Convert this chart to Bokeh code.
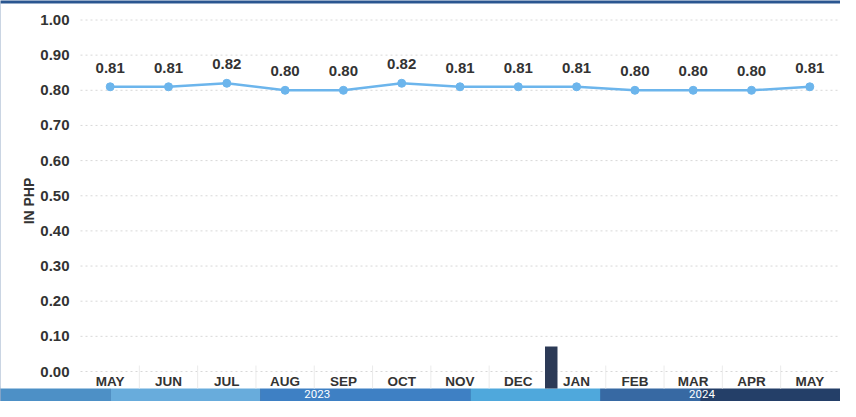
from bokeh.plotting import figure
from bokeh.models import LinearAxis, FixedTicker, NumeralTickFormatter, Range1d
from bokeh.core.properties import value
from bokeh.embed import file_html
from bokeh.resources import INLINE

# ---- data ----
months = ["MAY", "JUN", "JUL", "AUG", "SEP", "OCT", "NOV", "DEC",
          "JAN", "FEB", "MAR", "APR", "MAY"]
prices = [0.81, 0.81, 0.82, 0.80, 0.80, 0.82, 0.81, 0.81,
          0.81, 0.80, 0.80, 0.80, 0.81]
price_labels = ["%.2f" % v for v in prices]
y_ticks = [0.0, 0.1, 0.2, 0.3, 0.4, 0.5, 0.6, 0.7, 0.8, 0.9, 1.0]
years = ["2023", "2024"]
y_label = "IN PHP"

W, H = 840, 401
# pixel geometry of the reference (canvas coordinates)
X0_PX, DX_PX = 109.7, 58.3      # x px of first category, px per category
Y0_PX, DY_PX = 371.0, 351.5     # y px of value 0, px per unit

def xv(px):
    return (px - X0_PX) / DX_PX

def yv(py):
    return (Y0_PX - py) / DY_PX

xs = list(range(len(months)))

p = figure(width=W, height=H, output_backend="svg", toolbar_location=None,
           x_axis_type=None, y_axis_type=None,
           x_range=Range1d(xv(0), xv(W)), y_range=Range1d(yv(H), yv(0)),
           min_border=0, min_border_left=0, min_border_right=0,
           min_border_top=0, min_border_bottom=0)
p.outline_line_color = None
p.background_fill_color = "#2a5690"
p.border_fill_color = "#ffffff"
p.xgrid.visible = False
p.ygrid.visible = False

# bottom blue band (photo background)
band = [(0, 110, "#4d90c6"), (110, 260, "#68acdc"), (260, 470, "#3e80c4"),
        (470, 600, "#4fa8dc"), (600, 700, "#3769a3"), (700, W, "#243f68")]
p.quad(left=[xv(a) for a, b, c in band], right=[xv(b) for a, b, c in band],
       bottom=yv(H + 2), top=yv(386), color=[c for a, b, c in band],
       line_color=None)

# white chart panel
p.quad(left=xv(-5), right=xv(W + 5), bottom=yv(388), top=yv(3),
       color="#ffffff", line_color=None)

# faint dotted grid lines
p.segment(x0=xv(80), x1=xv(W), y0=y_ticks, y1=y_ticks,
          line_color="#d8d8d8", line_width=1, line_dash="2 3")

# category box separators
seps = [i + 0.5 for i in xs[:-1]]
p.segment(x0=seps, x1=seps, y0=yv(365), y1=yv(388),
          line_color="#ebebeb", line_width=1)

# dark separator between years
p.quad(left=xv(544.5), right=xv(557), bottom=yv(388), top=yv(346),
       color="#2c3a56", line_color=None)

# line + markers
p.line(xs, prices, line_color="#6cb5ec", line_width=2.5)
p.scatter(xs, prices, size=8, fill_color="#6cb5ec", line_color="#6cb5ec")

# value labels
p.text(xs, prices, text=price_labels, text_font=value("Liberation Sans"),
       text_font_style="bold", text_font_size="15px", text_color="#333333",
       text_align="center", text_baseline="middle", y_offset=-19)

# year labels in the band
p.text([3.55, 10.15], [yv(393.5)] * 2, text=years,
       text_font=value("Roboto"), text_font_size="11.5px",
       text_color="#ffffff", text_align="center", text_baseline="middle")

# y axis (inside the frame)
yax = LinearAxis(fixed_location=xv(72), ticker=FixedTicker(ticks=y_ticks),
                 formatter=NumeralTickFormatter(format="0.00"))
yax.axis_line_color = None
yax.major_tick_line_color = None
yax.minor_tick_line_color = None
yax.major_tick_in = 0
yax.major_tick_out = 0
yax.major_label_standoff = 3
yax.major_label_text_font = "Liberation Sans"
yax.major_label_text_font_style = "bold"
yax.major_label_text_font_size = "15px"
yax.major_label_text_color = "#333333"
yax.axis_label = y_label
yax.axis_label_text_font = "Liberation Sans"
yax.axis_label_text_font_style = "bold"
yax.axis_label_text_font_size = "14px"
yax.axis_label_text_color = "#333333"
yax.axis_label_standoff = 0
p.add_layout(yax, "left")

# x axis (inside the frame)
xax = LinearAxis(fixed_location=0, ticker=FixedTicker(ticks=xs),
                 major_label_overrides={i: m for i, m in zip(xs, months)})
xax.axis_line_color = None
xax.major_tick_line_color = None
xax.minor_tick_line_color = None
xax.major_tick_in = 0
xax.major_tick_out = 0
xax.major_label_standoff = 2
xax.major_label_text_font = "Liberation Sans"
xax.major_label_text_font_style = "bold"
xax.major_label_text_font_size = "13.5px"
xax.major_label_text_color = "#333333"
p.add_layout(xax, "below")

open("out.html", "w").write(file_html(p, INLINE))
